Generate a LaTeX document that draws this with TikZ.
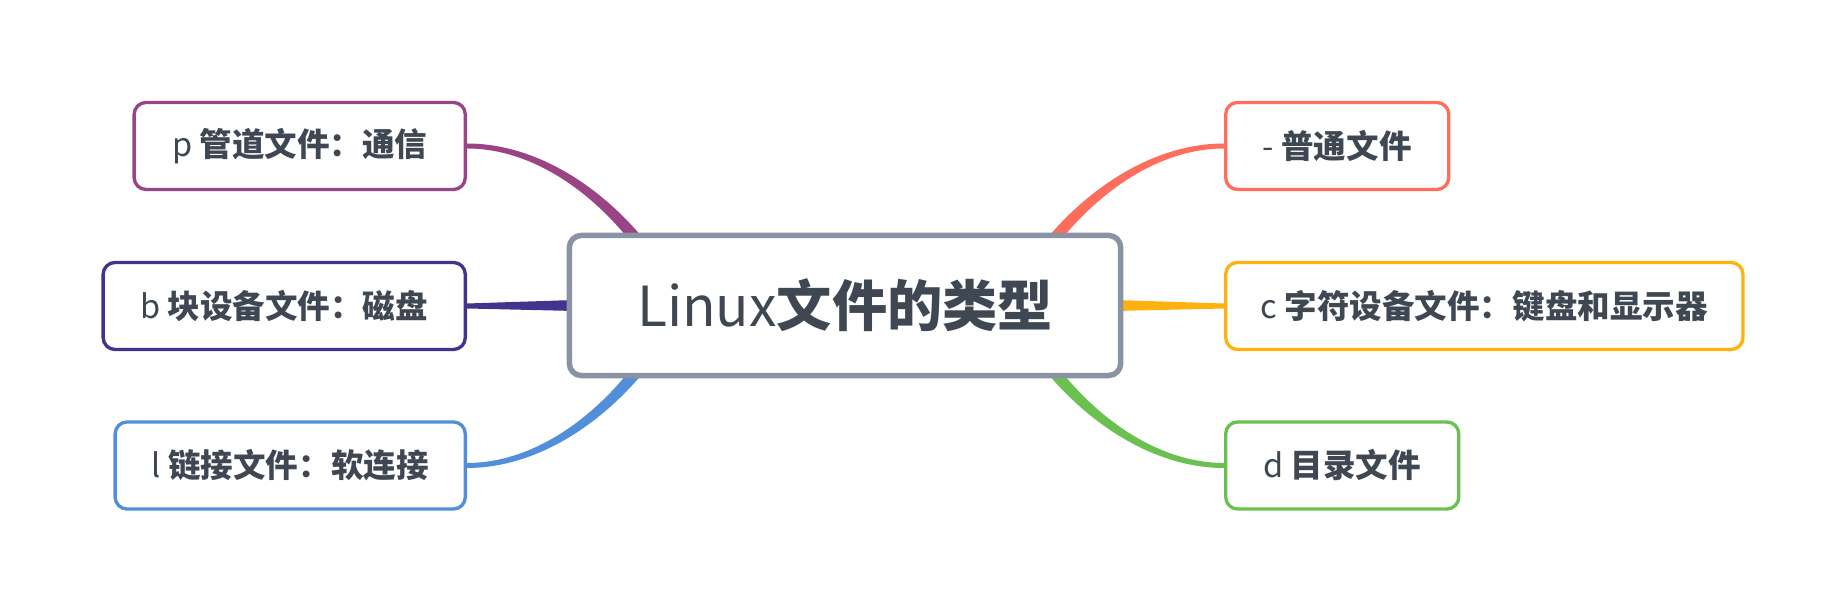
\documentclass[tikz,border=0pt]{standalone}
\usepackage{fontspec}
\setmainfont{Noto Sans CJK SC}
\usetikzlibrary{calc,backgrounds}
\definecolor{ink}{HTML}{3F4852}
\definecolor{slate}{HTML}{8993A4}
\definecolor{pipecol}{HTML}{9A4486}
\definecolor{blockcol}{HTML}{41348F}
\definecolor{linkcol}{HTML}{528FDA}
\definecolor{regcol}{HTML}{FF6E5C}
\definecolor{charcol}{HTML}{FFB20F}
\definecolor{dircol}{HTML}{6BC150}

\begin{document}
\begin{tikzpicture}[x = 0.01cm, y = -0.01cm,
                    every node/.style = {text = ink, fill = white, rounded corners = 3.4pt, inner sep = 0pt},
                    root/.style = {draw = slate, line width = 1.55pt, minimum width = 5.51cm, minimum height = 1.40cm,
                                   font = \fontsize{15.7}{19}\selectfont},
                    topic/.style = {draw, line width = 0.95pt, minimum height = 0.87cm,
                                    font = \fontsize{9.25}{11}\selectfont}]
      \useasboundingbox (0, 0) rectangle (1844, 610);

      \node [root] (root) at (845, 305.5) {Linux\textbf{文件的类型}};

      \node [topic, draw = pipecol, minimum width = 3.31cm, anchor = east] (p) at (467, 146) {p \textbf{管道文件：通信}};
      \node [topic, draw = blockcol, minimum width = 3.62cm, anchor = east] (b) at (467, 306) {b \textbf{块设备文件：磁盘}};
      \node [topic, draw = linkcol, minimum width = 3.50cm, anchor = east] (l) at (467, 465.5) {l \textbf{链接文件：软连接}};

      \node [topic, draw = regcol, minimum width = 2.23cm, anchor = west] (n) at (1224, 146) {- \textbf{普通文件}};
      \node [topic, draw = charcol, minimum width = 5.17cm, anchor = west] (c) at (1224, 306) {c \textbf{字符设备文件：键盘和显示器}};
      \node [topic, draw = dircol, minimum width = 2.33cm, anchor = west] (d) at (1224, 465.5) {d \textbf{目录文件}};

      \begin{pgfonlayer}{background}
      % left branches
      \fill [pipecol] ($(p.east)+(0,-2.5)$) .. controls +(93,0) and +(-44,-104) .. ($(root.center)+(-148,21)$)
            -- ($(root.center)+(-162,28)$) .. controls +(-36,-96) and +(93,0) .. ($(p.east)+(0,2.5)$) -- cycle;
      \fill [blockcol] ($(b.east)+(0,-2.5)$) -- ($(root.west)+(8,-5.5)$) -- ($(root.west)+(8,5.5)$) -- ($(b.east)+(0,2.5)$) -- cycle;
      \fill [linkcol] ($(l.east)+(0,2.5)$) .. controls +(93,0) and +(-44,104) .. ($(root.center)+(-148,-21)$)
            -- ($(root.center)+(-162,-28)$) .. controls +(-36,96) and +(93,0) .. ($(l.east)+(0,-2.5)$) -- cycle;

      % right branches
      \fill [regcol] ($(n.west)+(0,-2.5)$) .. controls +(-93,0) and +(44,-104) .. ($(root.center)+(148,21)$)
            -- ($(root.center)+(162,28)$) .. controls +(36,-96) and +(-93,0) .. ($(n.west)+(0,2.5)$) -- cycle;
      \fill [charcol] ($(c.west)+(0,-2.5)$) -- ($(root.east)+(-8,-5.5)$) -- ($(root.east)+(-8,5.5)$) -- ($(c.west)+(0,2.5)$) -- cycle;
      \fill [dircol] ($(d.west)+(0,2.5)$) .. controls +(-93,0) and +(44,104) .. ($(root.center)+(148,-21)$)
            -- ($(root.center)+(162,-28)$) .. controls +(36,96) and +(-93,0) .. ($(d.west)+(0,-2.5)$) -- cycle;
      \end{pgfonlayer}
\end{tikzpicture}
\end{document}
